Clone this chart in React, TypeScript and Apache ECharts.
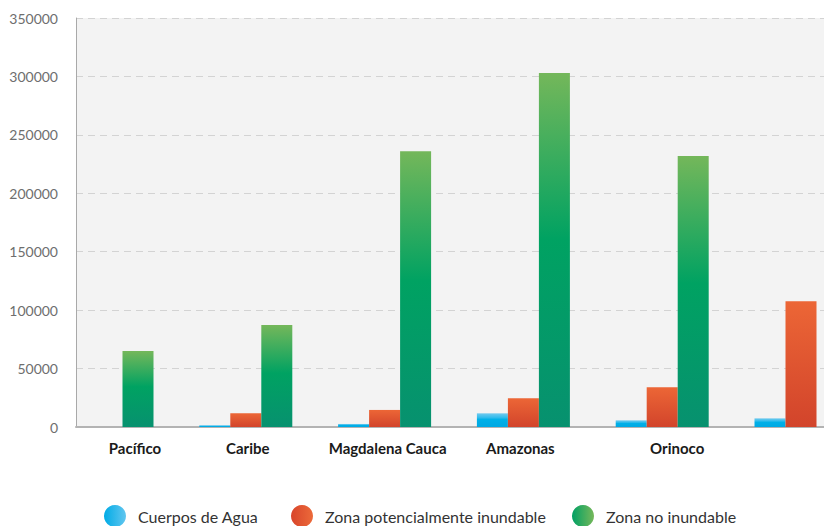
import React, { useEffect, useRef } from "react";
import * as echarts from "echarts";

// Regions and surface per class (ha)
const categories = ["Pacífico", "Caribe", "Magdalena Cauca", "Amazonas", "Orinoco", ""];
const cuerposDeAgua = [0, 1500, 2600, 11700, 5700, 7400];
const zonaPotencial = [0, 11700, 14600, 24600, 34000, 107700];
const zonaNoInundable = [65000, 87200, 236000, 303000, 232000, 0];
const seriesNames = ["Cuerpos de Agua", "Zona potencialmente inundable", "Zona no inundable"];
const yTicks = { min: 0, max: 350000, interval: 50000 };

// Layout: pixel position of the first group centre and the spacing between groups
const GRID_LEFT = 76;
const GRID_RIGHT_EDGE = 824;
const FIRST_CENTER = 107;
const STEP = 138.8;
// Horizontal nudge (px) of each region name relative to its bar group
const LABEL_NUDGE = [28, 2, 3, -3, 15];

const FONT = "Lato, 'Open Sans', sans-serif";

const vGrad = (stops: [number, string][]) =>
  new echarts.graphic.LinearGradient(0, 0, 0, 1, stops.map(([offset, color]) => ({ offset, color })));
const hGrad = (a: string, b: string) =>
  new echarts.graphic.LinearGradient(0, 0, 1, 0, [
    { offset: 0, color: a },
    { offset: 1, color: b },
  ]);

const barFills = [
  vGrad([
    [0, "#72caee"],
    [0.3, "#34bcec"],
    [0.45, "#00b0e8"],
    [1, "#00a8e3"],
  ]),
  vGrad([
    [0, "#ec6636"],
    [1, "#d2442b"],
  ]),
  vGrad([
    [0, "#74b75a"],
    [0.47, "#00a262"],
    [1, "#07916f"],
  ]),
];
const legendFills = [
  hGrad("#00abe6", "#62c6ef"),
  hGrad("#d8452b", "#ec6a3a"),
  hGrad("#00a064", "#76b85a"),
];
const legendLefts = [104, 291, 572];

export default function App() {
  const ref = useRef<HTMLDivElement>(null);

  useEffect(() => {
    if (!ref.current) return;
    const chart = echarts.init(ref.current, undefined, { renderer: "svg" });

    const xMin = (GRID_LEFT - FIRST_CENTER) / STEP;
    const xMax = (GRID_RIGHT_EDGE - FIRST_CENTER) / STEP;
    const named = categories.map((c, i) => ({ c, i })).filter((d) => d.c !== "");
    const labelValues = named.map((d) => d.i + (LABEL_NUDGE[d.i] || 0) / STEP);

    const valueSets = [cuerposDeAgua, zonaPotencial, zonaNoInundable];

    chart.setOption({
      animation: false,
      grid: {
        left: GRID_LEFT,
        right: 0,
        top: 18,
        bottom: 99,
        show: true,
        backgroundColor: "#f3f3f3",
        borderWidth: 0,
      },
      legend: seriesNames.map((name, k) => ({
        left: legendLefts[k],
        top: 505,
        padding: 0,
        icon: "circle",
        itemWidth: 22,
        itemHeight: 22,
        selectedMode: false,
        textStyle: {
          fontFamily: FONT,
          fontSize: 16,
          color: "#333333",
          padding: [0, 0, 0, 7],
        },
        data: [{ name, itemStyle: { color: legendFills[k] } }],
      })),
      xAxis: {
        type: "value",
        min: xMin,
        max: xMax,
        splitLine: { show: false },
        axisTick: { show: false },
        axisLine: { show: true, lineStyle: { color: "#b3b3b3", width: 2 } },
        axisLabel: {
          customValues: labelValues,
          margin: 13,
          fontFamily: FONT,
          fontSize: 15,
          fontWeight: "bold",
          color: "#1a1a1a",
          formatter: (v: number) => categories[Math.round(v)] ?? "",
        },
      },
      yAxis: {
        type: "value",
        min: yTicks.min,
        max: yTicks.max,
        interval: yTicks.interval,
        axisLine: { show: true, onZero: false, lineStyle: { color: "#a9a9a9", width: 1 } },
        axisTick: { show: false },
        axisLabel: {
          margin: 18,
          fontFamily: FONT,
          fontSize: 14,
          color: "#6e6e6e",
          formatter: (v: number) => String(v),
        },
        splitLine: {
          show: true,
          lineStyle: { color: "#d3d3d3", type: [7, 5], width: 1 },
        },
      },
      series: seriesNames.map((name, k) => ({
        name,
        type: "bar",
        barWidth: 31,
        barGap: "0%",
        itemStyle: { color: barFills[k] },
        data: categories.map((_, i) => [i, valueSets[k][i]]),
      })),
    });

    return () => chart.dispose();
  }, []);

  return <div ref={ref} style={{ width: 824, height: 526, position: "absolute", left: 0, top: 0 }} />;
}
